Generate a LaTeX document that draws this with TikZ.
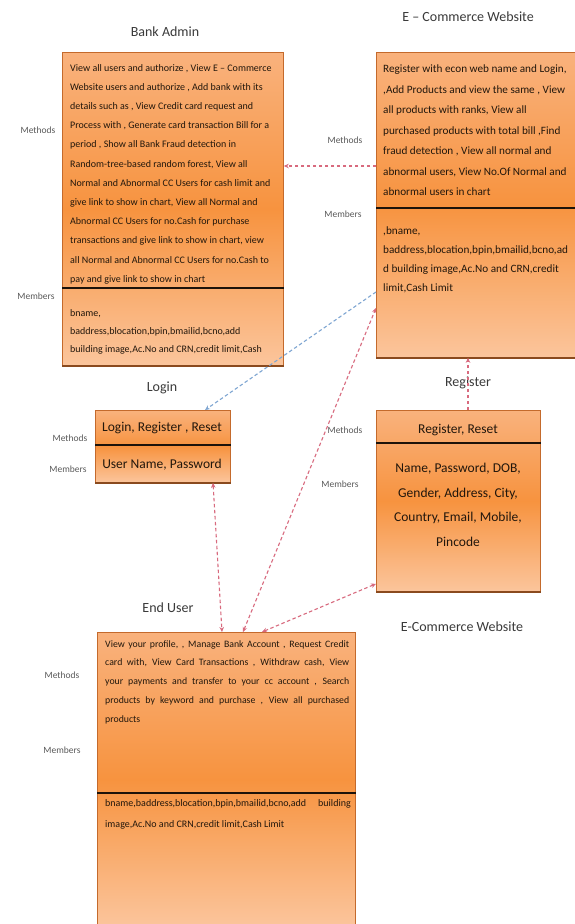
\documentclass[tikz,border=0pt]{standalone}
\usepackage{fontspec}
\setmainfont{Carlito}
\usetikzlibrary{arrows.meta,calc}
\definecolor{boxtop}{HTML}{F9B27D}
\definecolor{boxmid}{HTML}{F7933F}
\definecolor{boxbot}{HTML}{FBC59C}
\definecolor{boxedge}{HTML}{C46A2C}
\definecolor{boxshadow}{HTML}{8A4A1E}
\definecolor{txtcol}{HTML}{22170C}
\definecolor{lblcol}{HTML}{5A5A5A}
\definecolor{ttlcol}{HTML}{3A3A3A}
\definecolor{connpink}{HTML}{D86A7E}
\definecolor{connblue}{HTML}{7FA6D2}
\begin{document}
\begin{tikzpicture}[x=1pt,y=-1pt,
  umlbox/.style={draw=boxedge, line width=0.8pt, top color=boxtop, bottom color=boxbot, middle color=boxmid, inner sep=0pt, anchor=north west},
  divider/.style={draw=black!85!brown, line width=1.2pt},
  shadowline/.style={draw=boxshadow, line width=1.6pt},
  bodytxt/.style={text=txtcol, inner sep=0pt, anchor=north west, align=left},
  centretxt/.style={text=txtcol, inner sep=0pt, align=center},
  lbl/.style={text=lblcol, inner sep=0pt, font=\fontsize{9.5}{11}\selectfont},
  ttl/.style={text=ttlcol, inner sep=0pt, font=\fontsize{14}{16}\selectfont},
  conn/.style={draw=connpink, line width=1.1pt, dash pattern=on 3.5pt off 2.5pt, -{Stealth[length=5pt,width=4.5pt]}},
  connboth/.style={conn, {Stealth[length=5pt,width=4.5pt]}-{Stealth[length=5pt,width=4.5pt]}},
  connb/.style={conn, draw=connblue}
]
\useasboundingbox[fill=white] (0,0) rectangle (575,924);

% ---------- boxes ----------
\node[umlbox, minimum width=221, minimum height=313] (ba) at (62,52) {};
\node[umlbox, minimum width=200, minimum height=305] (ec) at (376,52) {};
\node[umlbox, minimum width=135, minimum height=72] (lg) at (95,410) {};
\node[umlbox, minimum width=164, minimum height=181] (rg) at (376,410) {};
\node[umlbox, minimum width=258, minimum height=294] (eu) at (97,632) {};

% bottom shadows
\draw[shadowline] (ba.south west) -- (ba.south east);
\draw[shadowline] (ec.south west) -- (ec.south east);
\draw[shadowline] (lg.south west) -- (lg.south east);
\draw[shadowline] (rg.south west) -- (rg.south east);

% dividers
\draw[divider] ([yshift=-236]ba.north west) -- ([yshift=-236]ba.north east);
\draw[divider] ([yshift=-156]ec.north west) -- ([yshift=-156]ec.north east);
\draw[divider] ([yshift=-35]lg.north west) -- ([yshift=-35]lg.north east);
\draw[divider] ([yshift=-33]rg.north west) -- ([yshift=-33]rg.north east);
\draw[divider] ([yshift=-161]eu.north west) -- ([yshift=-161]eu.north east);

% ---------- titles ----------
\node[ttl] (tba) at (165,32) {Bank Admin};
\node[ttl] (tec) at (468,17) {E – Commerce Website};
\node[ttl] (tlg) at (162,388) {Login};
\node[ttl] (trg) at (468,383) {Register};
\node[ttl] (trg2) at (462,627) {E-Commerce Website};
\node[ttl] (teu) at (168,608) {End User};

% ---------- side labels ----------
\node[lbl] (mba) at (38,130) {Methods};
\node[lbl] (nba) at (36,296) {Members};
\node[lbl] (mec) at (345,140) {Methods};
\node[lbl] (nec) at (343,214) {Members};
\node[lbl] (mlg) at (70,438) {Methods};
\node[lbl] (nlg) at (68,469) {Members};
\node[lbl] (mrg) at (345,430) {Methods};
\node[lbl] (nrg) at (340,484) {Members};
\node[lbl] (meu) at (62,675) {Methods};
\node[lbl] (neu) at (62,750) {Members};

% ---------- box texts ----------
\node[bodytxt, font=\fontsize{10}{19.2}\selectfont] (baM) at (70,64) {%
View all users and authorize , View E – Commerce\\
Website users and authorize , Add bank with its\\
details such as , View Credit card request and\\
Process with , Generate card transaction Bill for a\\
period , Show all Bank Fraud detection in\\
Random-tree-based random forest, View all\\
Normal and Abnormal CC Users for cash limit and\\
give link to show in chart, View all Normal and\\
Abnormal CC Users for no.Cash for purchase\\
transactions and give link to show in chart, view\\
all Normal and Abnormal CC Users for no.Cash to\\
pay and give link to show in chart};

\node[bodytxt, font=\fontsize{10}{18}\selectfont] (baN) at (70,309) {%
bname,\\
baddress,blocation,bpin,bmailid,bcno,add\\
building image,Ac.No and CRN,credit limit,Cash};

\node[bodytxt, font=\fontsize{11.2}{20.5}\selectfont] (ecM) at (383,65) {%
Register with econ web name and Login,\\
,Add Products and view the same , View\\
all products with ranks, View all\\
purchased products with total bill ,Find\\
fraud detection , View all normal and\\
abnormal users, View No.Of Normal and\\
abnormal users in chart};

\node[bodytxt, font=\fontsize{11.2}{18.7}\selectfont] (ecN) at (383,227) {%
,bname,\\
baddress,blocation,bpin,bmailid,bcno,ad\\
d building image,Ac.No and CRN,credit\\
limit,Cash Limit};

\node[centretxt, font=\fontsize{13.5}{15}\selectfont] (lgM) at (162,428) {Login, Register , Reset};
\node[centretxt, font=\fontsize{13.5}{15}\selectfont] (lgN) at (162,465) {User Name, Password};

\node[centretxt, font=\fontsize{13.5}{15}\selectfont] (rgM) at (458,430) {Register, Reset};
\node[centretxt, font=\fontsize{13.5}{24.7}\selectfont] (rgN) at (458,505) {%
Name, Password, DOB,\\
Gender, Address, City,\\
Country, Email, Mobile,\\
Pincode};

\node[bodytxt, font=\fontsize{9.8}{18.8}\selectfont] (euM) at (105,640) {%
\makebox[244pt][s]{View your profile, , Manage Bank Account , Request Credit}\\
\makebox[244pt][s]{card with, View Card Transactions , Withdraw cash, View}\\
\makebox[244pt][s]{your payments and transfer to your cc account , Search}\\
\makebox[244pt][s]{products by keyword and purchase , View all purchased}\\
products};

\node[bodytxt, font=\fontsize{10}{21}\selectfont] (euN) at (105,799) {%
\makebox[242pt][s]{bname,baddress,blocation,bpin,bmailid,bcno,add\hspace{12pt plus 20pt}building}\\
image,Ac.No and CRN,credit limit,Cash Limit};

% ---------- connectors ----------
\draw[conn] ([yshift=-114]ec.north west) -- ([yshift=-114]ba.north east);
\draw[connb] ([yshift=-240]ec.north west) -- ([xshift=110]lg.north west);
\draw[connboth] ([xshift=146]eu.north west) -- ([yshift=-256]ec.north west);
\draw[connboth] ([xshift=118]lg.south west) -- ([xshift=125]eu.north west);
\draw[connboth] ([xshift=165]eu.north west) -- ([yshift=8]rg.south west);
\draw[conn] ([xshift=92]rg.north west) -- ([xshift=92]ec.south west);
\end{tikzpicture}
\end{document}
